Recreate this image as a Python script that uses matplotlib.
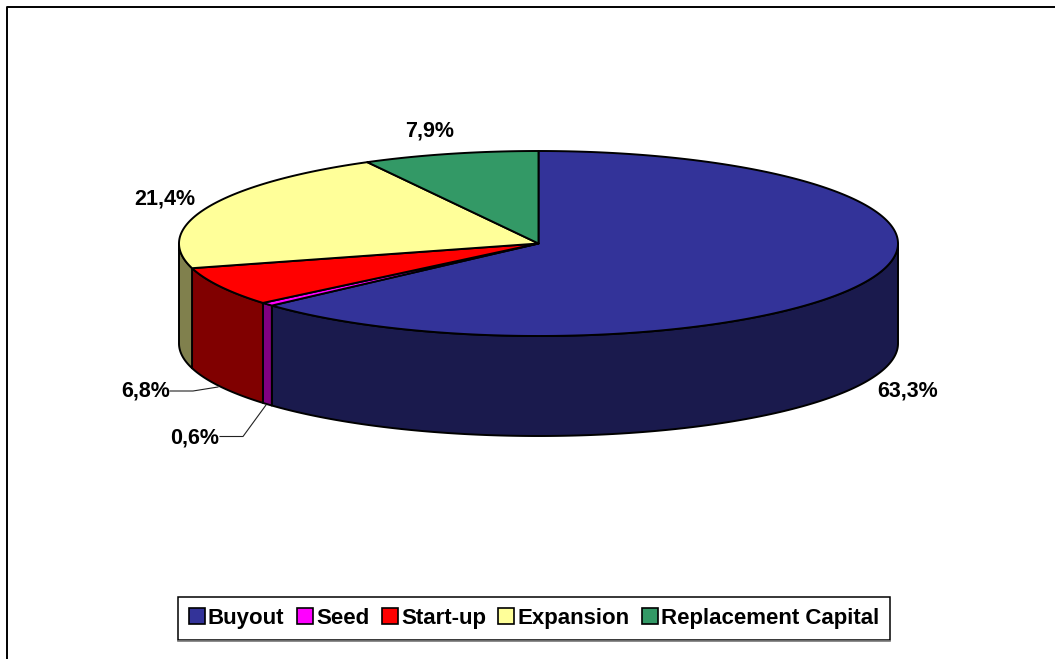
import numpy as np
import matplotlib
matplotlib.use("Agg")
import matplotlib.pyplot as plt
from matplotlib.patches import Polygon, Patch

# Chart data
categories = ['Buyout', 'Seed', 'Start-up', 'Expansion', 'Replacement Capital']
shares = [63.3, 0.6, 6.8, 21.4, 7.9]
top_colors = ['#333399', '#FF00FF', '#FF0000', '#FFFF99', '#339966']
side_colors = ['#1A1A4D', '#800080', '#800000', '#80804D', '#1A4D33']
label_pos = [(908, 391.5), (195, 438), (146, 391.5), (164.5, 198.5), (430, 131)]

# Pie geometry in pixels
CX, CY = 538.5, 243.5
RX, RY = 359.5, 92.5
DEPTH = 100


def ellipse_pts(a0, a1, dy=0):
    # Angles are degrees clockwise from 12 o'clock
    t = np.radians(np.linspace(a0, a1, max(int(abs(a1 - a0) * 2), 2)))
    return np.column_stack([CX + RX * np.sin(t), CY - RY * np.cos(t) + dy])


plt.rcParams['font.family'] = ['Liberation Sans', 'DejaVu Sans']
fig = plt.figure(figsize=(10.55, 6.59), dpi=100)
ax = fig.add_axes([0, 0, 1, 1])
ax.set_xlim(0, 1055)
ax.set_ylim(659, 0)
ax.axis('off')

# Chart area border, cut by the image edge
ax.plot([7, 7, 1055], [659, 6.5, 6.5], color='black', lw=1.4, zorder=1)

edges = np.concatenate([[0], np.cumsum(shares)]) * 3.6

# Side walls, only the front half shows
for i in range(len(shares)):
    a0 = max(edges[i], 90)
    a1 = min(edges[i + 1], 270)
    if a1 <= a0:
        continue
    pts = np.vstack([ellipse_pts(a0, a1), ellipse_pts(a0, a1, DEPTH)[::-1]])
    ax.add_patch(Polygon(pts, closed=True, facecolor=side_colors[i],
                         edgecolor='black', lw=1.4, joinstyle='round', zorder=2))

# Top face
for i in range(len(shares)):
    pts = np.vstack([[CX, CY], ellipse_pts(edges[i], edges[i + 1])])
    ax.add_patch(Polygon(pts, closed=True, facecolor=top_colors[i],
                         edgecolor='black', lw=1.4, joinstyle='round', zorder=3))

# Leader lines for the two small slices
ax.plot([170, 193, 218], [391, 391, 387], color='#222222', lw=0.8, zorder=4)
ax.plot([220, 243, 266], [436.5, 436.5, 405], color='#222222', lw=0.8, zorder=4)

for val, (x, y) in zip(shares, label_pos):
    ax.text(x, y, f'{val:.1f}%'.replace('.', ','), fontsize=15.5, fontweight='bold',
            ha='center', va='center', zorder=5)

# Legend
handles = [Patch(facecolor=c, edgecolor='black', lw=1.2) for c in top_colors]
leg = ax.legend(handles, categories, ncol=5, loc='center',
                bbox_to_anchor=(534 / 1055, 1 - 618.6 / 659),
                prop={'size': 16, 'weight': 'bold'},
                frameon=True, fancybox=False, framealpha=1, edgecolor='black',
                handlelength=0.72, handleheight=0.72, handletextpad=0.15,
                columnspacing=0.55, borderpad=0.5, borderaxespad=0)
leg.get_frame().set_linewidth(1.1)

# Grey edge under the legend box
ax.plot([178, 890], [640.8, 640.8], color='#777777', lw=1.2, zorder=6)

fig.savefig('out.png', dpi=100)
